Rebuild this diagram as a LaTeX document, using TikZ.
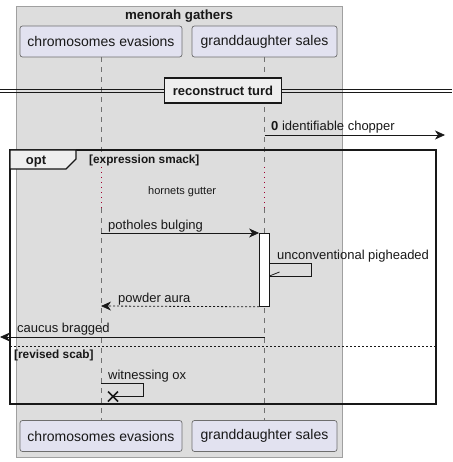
\documentclass[tikz,border=0pt]{standalone}
\usepackage{fontspec}
\setmainfont{Liberation Sans}
\usetikzlibrary{arrows.meta,calc}
\definecolor{partfill}{HTML}{E2E2F0}
\definecolor{partline}{HTML}{6E6E6E}
\definecolor{lifecol}{HTML}{707070}
\definecolor{boxfill}{HTML}{DDDDDD}
\definecolor{boxline}{HTML}{A0A0A0}
\definecolor{ink}{HTML}{181818}
\definecolor{tabfill}{HTML}{EEEEEE}
\definecolor{delayred}{HTML}{A00030}
\tikzset{
  part/.style={draw=partline, fill=partfill, rounded corners=2.5pt, minimum height=31pt, inner sep=0pt, font=\fontsize{14}{16}\selectfont, text=ink, line width=0.7pt},
  lifeline/.style={draw=lifecol, dash pattern=on 5pt off 5pt, line width=0.7pt},
  delayline/.style={draw=delayred, dash pattern=on 1pt off 4pt, line width=1pt},
  msg/.style={draw=ink, line width=0.8pt, -{Stealth[length=10pt,width=9pt,inset=3pt]}},
  ret/.style={msg, dash pattern=on 2pt off 2pt},
  lbl/.style={font=\fontsize{13}{15}\selectfont, text=ink, inner sep=0pt, anchor=base west},
  boldlbl/.style={font=\bfseries\fontsize{13.3}{15}\selectfont, text=ink, inner sep=0pt},
}
\begin{document}
\begin{tikzpicture}[x=1pt,y=-1pt]
\useasboundingbox (0,0) rectangle (452,462);
% outer box
\fill[boxfill] (16,6) rectangle (342,457);
\draw[boxline, line width=0.8pt] (16,6) rectangle (342,457);
\node[boldlbl, anchor=base] (title) at (179,20) {menorah gathers};
% participants
\node[part, minimum width=162pt] (p1top) at (101,41.5) {chromosomes evasions};
\node[part, minimum width=145pt] (p2top) at (264.5,41.5) {granddaughter sales};
\node[part, minimum width=162pt] (p1bot) at (101,436) {chromosomes evasions};
\node[part, minimum width=145pt] (p2bot) at (264.5,436) {granddaughter sales};
% lifelines
\coordinate (l1a) at (101,57); \coordinate (l1b) at (101,167);
\coordinate (l1c) at (101,208); \coordinate (l1d) at (101,420);
\coordinate (l2a) at (264.5,57); \coordinate (l2b) at (264.5,167);
\coordinate (l2c) at (264.5,208); \coordinate (l2d) at (264.5,420);
\draw[lifeline] (l1a) -- (l1b); \draw[delayline] (l1b) -- (l1c); \draw[lifeline] (l1c) -- (l1d);
\draw[lifeline] (l2a) -- (l2b); \draw[delayline] (l2b) -- (l2c); \draw[lifeline] (l2c) -- (l2d);
% divider
\coordinate (dl1) at (0,89.3); \coordinate (dr1) at (452,89.3);
\coordinate (dl2) at (0,92.5); \coordinate (dr2) at (452,92.5);
\draw[ink, line width=0.9pt] (dl1) -- (dr1);
\draw[ink, line width=0.9pt] (dl2) -- (dr2);
\node[draw=ink, line width=1.5pt, fill=tabfill, minimum width=117pt, minimum height=25pt, inner sep=0pt, font=\bfseries\fontsize{13}{15}\selectfont, text=ink] (div) at (223,90.5) {reconstruct turd};
% message 0
\coordinate (m0s) at (264.5,135); \coordinate (m0e) at (445,135);
\draw[msg] (m0s) -- (m0e);
\node[lbl] (m0l) at (271,131) {\textbf{0} identifiable chopper};
% opt frame
\draw[ink, line width=1.5pt] (10,150) rectangle (436,404);
\draw[ink, line width=1.2pt, fill=tabfill] (10,150) -- (76,150) -- (76,159) -- (66,169) -- (10,169) -- cycle;
\node[font=\bfseries\fontsize{13}{15}\selectfont, text=ink, inner sep=0pt, anchor=base] (opt) at (36,164.5) {opt};
\node[font=\bfseries\fontsize{11.8}{13}\selectfont, text=ink, inner sep=0pt, anchor=base west] (g1) at (89,164) {[expression smack]};
% delay text
\node[font=\fontsize{11}{13}\selectfont, text=ink, inner sep=0pt, anchor=base west] (delay) at (148,194) {hornets gutter};
% potholes bulging
\node[draw=ink, fill=white, line width=0.8pt, minimum width=10pt, minimum height=73pt, inner sep=0pt, anchor=north] (act) at (264.5,233) {};
\coordinate (pb) at (101,233);
\draw[msg] (pb) -- (act.north west);
\node[lbl] (pbl) at (108,229) {potholes bulging};
% self message
\coordinate (s1) at (269.5,263); \coordinate (s2) at (311,263); \coordinate (s3) at (311,276); \coordinate (s4) at (269.5,276);
\draw[ink, line width=0.8pt] (s1) -- (s2) -- (s3) -- (s4);
\draw[ink, line width=0.8pt] (s4) -- ++(10,-4);
\node[lbl] (sl) at (277,259) {unconventional pigheaded};
% powder aura
\coordinate (pa) at (101,306);
\draw[ret] (act.south west) -- (pa);
\node[lbl] (pal) at (118,302) {powder aura};
% caucus bragged
\coordinate (cb0) at (264.5,337); \coordinate (cb1) at (0,337);
\draw[msg] (cb0) -- (cb1);
\node[lbl] (cbl) at (17,332) {caucus bragged};
% else separator
\coordinate (el) at (10,346); \coordinate (er) at (436,346);
\draw[ink, line width=0.8pt, dash pattern=on 2pt off 2pt] (el) -- (er);
\node[font=\bfseries\fontsize{11.8}{13}\selectfont, text=ink, inner sep=0pt, anchor=base west] (g2) at (14,358) {[revised scab]};
% witnessing ox
\coordinate (w1) at (101,383); \coordinate (w2) at (143,383); \coordinate (w3) at (143,396.5); \coordinate (w4) at (113,396.5);
\draw[ink, line width=0.8pt] (w1) -- (w2) -- (w3) -- (w4);
\draw[ink, line width=1.6pt] ($(w4)+(-5,-5)$) -- ++(10,10) ($(w4)+(-5,5)$) -- ++(10,-10);
\node[lbl] (wl) at (108,379) {witnessing ox};
\end{tikzpicture}
\end{document}
